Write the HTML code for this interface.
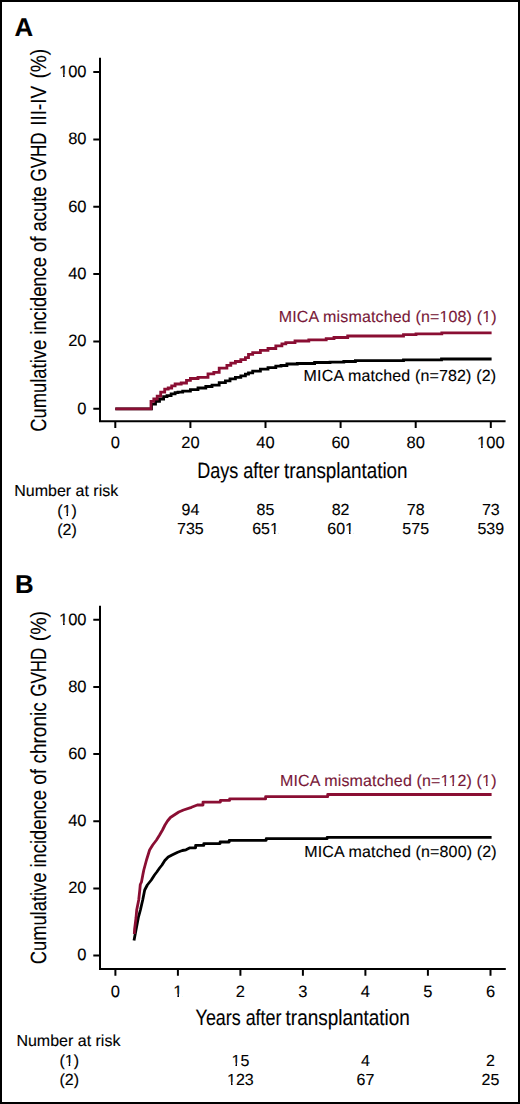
<!DOCTYPE html>
<html><head><meta charset="utf-8"><style>
html,body{margin:0;padding:0;background:#fff;}
#w{position:relative;width:520px;height:1104px;overflow:hidden;background:#fff;}
#w svg{position:absolute;left:0;top:0;}
text{text-rendering:geometricPrecision;font-family:"Liberation Sans",sans-serif;fill:#000;stroke:#000;stroke-width:0.12px;}
.red{stroke:#781838;}
.t{font-size:16.5px;}
.r{font-size:16px;}
.lg{font-size:16px;letter-spacing:0.15px;}
.ttl{font-size:22px;}
.lab{font-size:25.8px;font-weight:bold;}
.red{fill:#781838;}
</style></head><body><div id="w">
<svg width="520" height="1104" viewBox="0 0 520 1104">
<rect x="1" y="1" width="518" height="1102" fill="none" stroke="#000" stroke-width="2"/>

<!-- ================= A ================= -->
<text class="lab" x="14.5" y="35.8">A</text>
<g stroke="#000" stroke-width="2" fill="none">
<path d="M100 57.7V421.3H505.6"/>
<path d="M93.3 72H100M93.3 139.4H100M93.3 206.7H100M93.3 274.1H100M93.3 341.4H100M93.3 408.8H100"/>
<path d="M115.3 421V428M190.4 421V428M265.5 421V428M340.6 421V428M415.7 421V428M490.8 421V428"/>
</g>
<g class="t" text-anchor="end">
<text x="86.5" y="76.8">100</text>
<text x="86.5" y="144.2">80</text>
<text x="86.5" y="211.5">60</text>
<text x="86.5" y="278.9">40</text>
<text x="86.5" y="346.2">20</text>
<text x="86.5" y="413.6">0</text>
</g>
<g class="t" text-anchor="middle">
<text x="115.3" y="448">0</text>
<text x="190.4" y="448">20</text>
<text x="265.5" y="448">40</text>
<text x="340.6" y="448">60</text>
<text x="415.7" y="448">80</text>
<text x="490.8" y="448">100</text>
</g>
<text class="ttl" transform="translate(197.27 477.5) scale(0.819 1)">Days after</text>
<text class="ttl" transform="translate(283.99 477.5) scale(0.856 1)">transplantation</text>
<text class="ttl" transform="translate(46 431.8) rotate(-90) scale(0.836 1)">Cumulative incidence of acute</text>
<text class="ttl" transform="translate(46 181.5) rotate(-90) scale(0.772 1)">GVHD</text>
<text class="ttl" transform="translate(46 125.8) rotate(-90) scale(0.863 1)">III-IV</text>
<text class="ttl" transform="translate(46 78.6) rotate(-90) scale(0.87 1)">(%)</text>

<path fill="none" stroke="#000" stroke-width="2.8" d="M115.3 408.8H151.5V404.2H155.5V401.3H159.5V399H163.6V396.7H167V395.6H171.1V393.8H175.1V392.7H178V392.1H182.7V391.2H190.4V389.6H198V388H205.8V386.5H212V385.2H219.2V382.7H225.4V380.8H230V378.8H235.4V377.3H240.8V375.8H245.4V374.2H248.5V372.9H252.7V371.2H260.4V369.2H268V367.7H275.8V366.2H281V365.5H286.9V364H297.3V363.5H314.6V362.5H330V362.2H343.8V361.5H355.4V360.7H403.5V359.8H441.5V359H491.6"/>
<path fill="none" stroke="#8a0e33" stroke-width="2.8" d="M115.3 408.8H151V401.3H153.8V399H157.2V396.2H160.7V392.1H164.7V389.2H168.2V388H171.7V385.8H175.1V384H181.2V383H186.5V380.4H190.4V378.5H198V377.3H208V373.8H213.8V372.3H219.2V368.1H226.9V365.4H230.8V363.1H235.4V361.5H240.8V359.6H245.4V357.7H248.5V354.4H252.7V352.7H260.4V350.4H268V348.5H275.8V345.8H281.9V343.8H285.8V342.7H295V341H308.8V339.8H326.2V338.7H334V337.5H347.7V336H403.5V334.7H416V333.9H441.8V332.9H491.6"/>

<text class="lg red" transform="translate(278.8 322.3)">MICA mismatched (n=108) (1)</text>
<text class="lg" transform="translate(303.6 381.3)">MICA matched (n=782) (2)</text>

<text class="r" transform="translate(14.2 496.4)">Number at risk</text>
<text class="r" transform="translate(57.2 515.8)">(1)</text>
<text class="r" transform="translate(57.2 534.9)">(2)</text>
<g class="r" text-anchor="middle">
<text transform="translate(190.4 515.0)">94</text>
<text transform="translate(265.5 515.0)">85</text>
<text transform="translate(340.6 515.0)">82</text>
<text transform="translate(415.7 515.0)">78</text>
<text transform="translate(490.8 515.0)">73</text>
<text transform="translate(190.4 534.3)">735</text>
<text transform="translate(265.5 534.3)">651</text>
<text transform="translate(340.6 534.3)">601</text>
<text transform="translate(415.7 534.3)">575</text>
<text transform="translate(490.8 534.3)">539</text>
</g>

<!-- ================= B ================= -->
<text class="lab" x="14.9" y="593.1">B</text>
<g stroke="#000" stroke-width="2" fill="none">
<path d="M100 605.8V969H505.8"/>
<path d="M93.3 619.8H100M93.3 687H100M93.3 754.1H100M93.3 821.3H100M93.3 888.4H100M93.3 955.6H100"/>
<path d="M115.4 969V975.8M177.9 969V975.8M240.4 969V975.8M302.9 969V975.8M365.4 969V975.8M427.9 969V975.8M490.5 969V975.8"/>
</g>
<g class="t" text-anchor="end">
<text x="86.5" y="624.6">100</text>
<text x="86.5" y="691.8">80</text>
<text x="86.5" y="758.9">60</text>
<text x="86.5" y="826.1">40</text>
<text x="86.5" y="893.2">20</text>
<text x="86.5" y="960.4">0</text>
</g>
<g class="t" text-anchor="middle">
<text x="115.4" y="996.7">0</text>
<text x="177.9" y="996.7">1</text>
<text x="240.4" y="996.7">2</text>
<text x="302.9" y="996.7">3</text>
<text x="365.4" y="996.7">4</text>
<text x="427.9" y="996.7">5</text>
<text x="490.5" y="996.7">6</text>
</g>
<text class="ttl" transform="translate(195.59 1025) scale(0.813 1)">Years after</text>
<text class="ttl" transform="translate(285.58 1025) scale(0.861 1)">transplantation</text>
<text class="ttl" transform="translate(46 964.3) rotate(-90) scale(0.8333 1)">Cumulative incidence</text>
<text class="ttl" transform="translate(46 784.8) rotate(-90) scale(0.866 1)">of chronic</text>
<text class="ttl" transform="translate(46 696.6) rotate(-90) scale(0.766 1)">GVHD</text>
<text class="ttl" transform="translate(46 641.3) rotate(-90) scale(0.889 1)">(%)</text>

<path fill="none" stroke="#000" stroke-width="2.8" stroke-linejoin="round" d="M134 940.5L138.3 917.7L140.4 910L142.7 900L144.7 890L147.3 885L151.3 880L154.5 875L156.8 872L159.6 868L162 865L164.8 860.5L168.2 857L172 855L177.7 852.2L182.3 850.5L186 849.8L190 847.8H195.6V845.4H203.8V843.6H220.1V842H229.2V840.3H266.2V838.7H327.1V837.4H491.6"/>
<path fill="none" stroke="#8a0e33" stroke-width="2.8" stroke-linejoin="round" d="M134.3 934L134.6 929.2L136 918L136.7 910L138.7 900L139.8 890L140.3 884.5L141.5 882L142.8 875L143.8 870L146.5 860L149.6 850L152.7 845L156.5 840L159.6 835L162.5 830L165 825L167.5 821L170.4 817.5L174.2 815L178.8 812L183.5 810L191.5 807.3L197.3 805H203V802.1H220.4V800.4H229.6V798.9H265.6V796.7H327.7V794.5H491.6"/>

<text class="lg red" transform="translate(279.9 785.6)">MICA mismatched (n=112) (1)</text>
<text class="lg" transform="translate(304.2 856.5)">MICA matched (n=800) (2)</text>

<text class="r" transform="translate(16.4 1046.4)">Number at risk</text>
<text class="r" transform="translate(59.4 1065.9)">(1)</text>
<text class="r" transform="translate(59.4 1085.2)">(2)</text>
<g class="r" text-anchor="middle">
<text transform="translate(240.4 1065.6)">15</text>
<text transform="translate(365.4 1065.6)">4</text>
<text transform="translate(490.5 1065.6)">2</text>
<text transform="translate(240.4 1084.8)">123</text>
<text transform="translate(365.4 1084.8)">67</text>
<text transform="translate(490.5 1084.8)">25</text>
</g>
<g fill="#fff" id="nofoot">
<rect x="58.87" y="73.90" width="4.17" height="4.50"/>
<rect x="64.66" y="73.90" width="3.30" height="4.50"/>
<rect x="476.94" y="445.10" width="4.17" height="4.50"/>
<rect x="482.73" y="445.10" width="3.30" height="4.50"/>
<rect x="439.38" y="319.40" width="4.05" height="4.50"/>
<rect x="444.99" y="319.40" width="3.20" height="4.50"/>
<rect x="482.06" y="319.40" width="4.05" height="4.50"/>
<rect x="487.68" y="319.40" width="3.20" height="4.50"/>
<rect x="62.43" y="512.90" width="4.05" height="4.50"/>
<rect x="68.05" y="512.90" width="3.20" height="4.50"/>
<rect x="269.85" y="531.40" width="4.05" height="4.50"/>
<rect x="275.47" y="531.40" width="3.20" height="4.50"/>
<rect x="344.95" y="531.40" width="4.05" height="4.50"/>
<rect x="350.57" y="531.40" width="3.20" height="4.50"/>
<rect x="58.87" y="621.70" width="4.17" height="4.50"/>
<rect x="64.66" y="621.70" width="3.30" height="4.50"/>
<rect x="173.21" y="993.80" width="4.17" height="4.50"/>
<rect x="179.00" y="993.80" width="3.30" height="4.50"/>
<rect x="440.48" y="782.70" width="4.05" height="4.50"/>
<rect x="446.09" y="782.70" width="3.20" height="4.50"/>
<rect x="448.34" y="782.70" width="4.05" height="4.50"/>
<rect x="453.95" y="782.70" width="3.20" height="4.50"/>
<rect x="481.98" y="782.70" width="4.05" height="4.50"/>
<rect x="487.59" y="782.70" width="3.20" height="4.50"/>
<rect x="64.63" y="1063.00" width="4.05" height="4.50"/>
<rect x="70.25" y="1063.00" width="3.20" height="4.50"/>
<rect x="231.41" y="1062.70" width="4.05" height="4.50"/>
<rect x="237.02" y="1062.70" width="3.20" height="4.50"/>
<rect x="226.95" y="1081.90" width="4.05" height="4.50"/>
<rect x="232.57" y="1081.90" width="3.20" height="4.50"/>
</g>
</svg>
</div></body></html>
